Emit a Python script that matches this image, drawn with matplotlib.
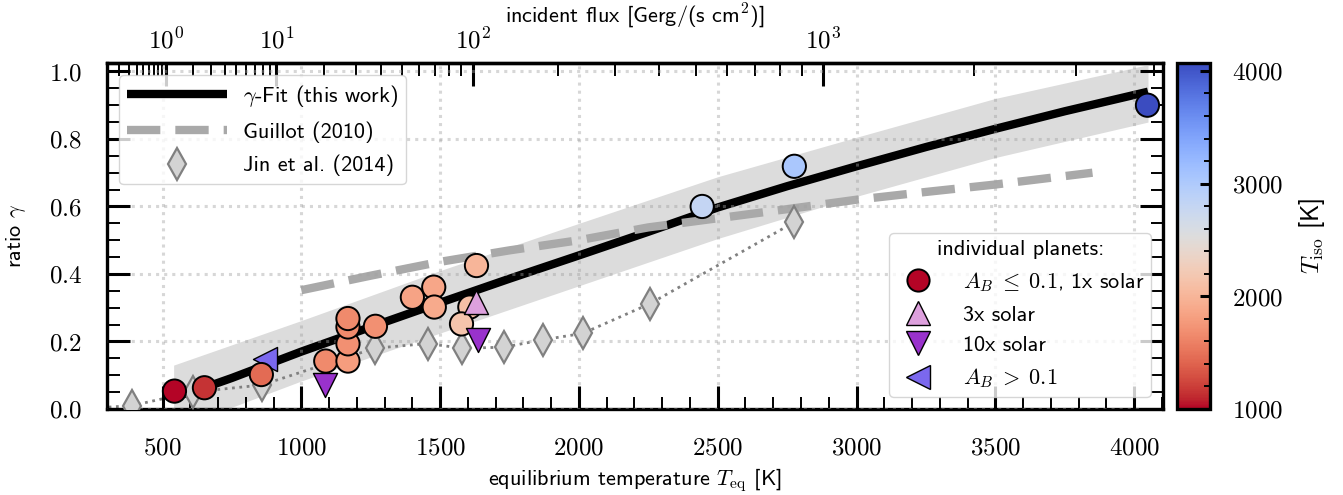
import numpy as np
import matplotlib
matplotlib.use('Agg')
import matplotlib.pyplot as plt
from matplotlib.ticker import MultipleLocator, FixedLocator, FuncFormatter, NullFormatter
from matplotlib.lines import Line2D
from matplotlib import colors as mcolors
from matplotlib import cm

plt.rcParams['font.family'] = 'cmss10'
plt.rcParams['mathtext.fontset'] = 'cm'
plt.rcParams['axes.unicode_minus'] = False
plt.rcParams['axes.formatter.use_mathtext'] = True

# ---------------- data ----------------
fit_T = [540, 650, 750, 1000, 1250, 1500, 1750, 2000, 2250, 2500, 2750, 3000, 3250, 3500, 3750, 4050]
fit_gamma = [0.035, 0.063, 0.092, 0.170, 0.243, 0.315, 0.386, 0.455, 0.525, 0.597, 0.660,
             0.719, 0.776, 0.830, 0.882, 0.940]

band_T = [540, 1000, 1500, 2000, 2500, 3000, 3500, 4050]
band_upper = [0.130, 0.262, 0.410, 0.550, 0.688, 0.805, 0.920, 1.020]
band_lower = [-0.060, 0.083, 0.225, 0.365, 0.505, 0.630, 0.745, 0.850]

guillot_T = [1000, 1250, 1500, 1750, 2000, 2250, 2500, 2750, 3000, 3250, 3500, 3850]
guillot_gamma = [0.352, 0.395, 0.436, 0.470, 0.500, 0.538, 0.565, 0.592, 0.620, 0.643, 0.665, 0.700]

jin_T = [200, 390, 608, 857, 1264, 1455, 1578, 1729, 1870, 2014, 2256, 2775]
jin_gamma = [0.0, 0.010, 0.050, 0.071, 0.180, 0.194, 0.180, 0.183, 0.205, 0.224, 0.312, 0.553]

planet_T = [543, 651, 856, 1088, 1168, 1168, 1168, 1168, 1267, 1400, 1477, 1479,
            1631, 1607, 1577, 2444, 2776, 4048]
planet_gamma = [0.053, 0.063, 0.102, 0.142, 0.142, 0.193, 0.243, 0.268, 0.245, 0.331, 0.361, 0.302,
                0.425, 0.302, 0.252, 0.600, 0.719, 0.900]
planet_Tiso = [1010, 1150, 1450, 1650, 1800, 1700, 1650, 1650, 1700, 1850, 1870, 1900,
               2000, 2100, 2150, 2800, 3050, 4060]

solar3_T = [1628]
solar3_gamma = [0.317]
solar10_T = [1635, 1084]
solar10_gamma = [0.203, 0.070]
albedo_T = [870]
albedo_gamma = [0.148]

flux_T0 = 512.0  # K, temperature corresponding to 1 Gerg/(s cm^2)
flux_major = [1, 10, 100, 1000]
flux_minor = [0.2, 0.3, 0.4, 0.5, 0.6, 0.7, 0.8, 0.9,
              2, 3, 4, 5, 6, 7, 8, 9,
              20, 30, 40, 50, 60, 70, 80, 90,
              200, 300, 400, 500, 600, 700, 800, 900,
              2000, 3000, 4000]
tiso_min, tiso_max = 1000, 4070

# ---------------- figure ----------------
W, H = 1343, 495
fig = plt.figure(figsize=(W / 100, H / 100), dpi=100)
ax = fig.add_axes([107 / W, 1 - 409 / H, (1163 - 107) / W, (409 - 63) / H])
cax = fig.add_axes([1177 / W, 1 - 409 / H, 33 / W, (409 - 63) / H])

cmap = plt.get_cmap('coolwarm_r')
norm = mcolors.Normalize(vmin=tiso_min, vmax=tiso_max)

ax.fill_between(band_T, band_lower, band_upper, color='#dcdcdc', lw=0, zorder=1)
ax.plot(fit_T, fit_gamma, color='black', lw=6, zorder=2, solid_capstyle='butt',
        solid_joinstyle='round')
ax.plot(guillot_T, guillot_gamma, color='darkgray', lw=6, dashes=(4, 1.8), zorder=2)
ax.plot(jin_T, jin_gamma, color='gray', lw=2.0, ls=':', zorder=2)
ax.plot(jin_T, jin_gamma, ls='none', marker='d', ms=15.8, mfc='lightgray', mec='gray',
        mew=1.6, zorder=2.6)

ax.scatter(planet_T, planet_gamma, c=planet_Tiso, cmap=cmap, norm=norm, s=280,
           edgecolors='black', linewidths=1.4, zorder=3)
ax.scatter(solar3_T, solar3_gamma, marker='^', color='plum', s=300, edgecolors='black',
           linewidths=1.0, zorder=4)
ax.scatter(solar10_T, solar10_gamma, marker='v', color='darkorchid', s=300, edgecolors='black',
           linewidths=1.0, zorder=4)
ax.scatter(albedo_T, albedo_gamma, marker='<', color='mediumslateblue', s=300, edgecolors='black',
           linewidths=1.0, zorder=2.9)

ax.set_xlim(300, 4104)
ax.set_ylim(0, 1.025)
ax.set_axisbelow(False)
ax.grid(True, which='major', ls=':', lw=2.2, color='#a0a0a0', alpha=0.42)

ax.xaxis.set_major_locator(MultipleLocator(500))
ax.xaxis.set_minor_locator(MultipleLocator(100))
ax.yaxis.set_major_locator(MultipleLocator(0.2))
ax.yaxis.set_minor_locator(MultipleLocator(0.05))
ax.xaxis.set_major_formatter(FuncFormatter(lambda v, p: f'${v:.0f}$'))
ax.yaxis.set_major_formatter(FuncFormatter(lambda v, p: f'${v:.1f}$'))
ax.tick_params(which='both', direction='in', top=False, right=True, labelsize=18)
ax.tick_params(which='major', length=16.5, width=2.2)
ax.tick_params(which='minor', length=9, width=1.4)
ax.tick_params(axis='x', which='major', pad=20)
ax.tick_params(axis='y', which='major', pad=18)
for s in ax.spines.values():
    s.set_linewidth(2.4)

ax.set_xlabel(r'equilibrium temperature $T_\mathrm{eq}$ [K]', fontsize=16)
ax.xaxis.set_label_coords(0.5, -0.165)
ax.set_ylabel(r'ratio $\gamma$', fontsize=16)
ax.yaxis.set_label_coords(-0.075, 0.5)

# top axis: incident flux
def t2f(T):
    return (np.asarray(T, dtype=float) / flux_T0) ** 4

def f2t(F):
    F = np.asarray(F, dtype=float)
    return flux_T0 * np.abs(F) ** 0.25

secax = ax.secondary_xaxis('top', functions=(t2f, f2t))
secax.xaxis.set_major_locator(FixedLocator(flux_major))
secax.xaxis.set_minor_locator(FixedLocator(flux_minor))
secax.xaxis.set_major_formatter(FuncFormatter(lambda v, p: f'$10^{{{int(round(np.log10(v)))}}}$'))
secax.xaxis.set_minor_formatter(NullFormatter())
secax.tick_params(which='both', direction='in', labelsize=18, pad=7)
secax.tick_params(which='major', length=16.5, width=2.2)
secax.tick_params(which='minor', length=9, width=1.4)
secax.spines['top'].set_linewidth(2.4)
secax.set_xlabel(r'incident flux [Gerg/(s cm$^2$)]', fontsize=16, labelpad=4)

# legends
h_fit = Line2D([], [], color='black', lw=6, solid_capstyle='butt')
h_gui = Line2D([], [], color='darkgray', lw=6, dashes=(4, 1.8))
h_jin = Line2D([], [], ls='none', marker='d', ms=15.8, mfc='lightgray', mec='gray', mew=1.6)
leg1 = ax.legend([h_fit, h_gui, h_jin],
                 [r'$\gamma$-Fit (this work)', 'Guillot (2010)', 'Jin et al. (2014)'],
                 loc='upper left', fontsize=16, handlelength=4.5, borderpad=0.35,
                 labelspacing=0.55, handletextpad=0.7, borderaxespad=0.55, numpoints=1)
ax.add_artist(leg1)

h_c = Line2D([], [], ls='none', marker='o', ms=16, mfc=cmap(norm(tiso_min)), mec='black', mew=1.4)
h_u = Line2D([], [], ls='none', marker='^', ms=17, mfc='plum', mec='black', mew=1.0)
h_d = Line2D([], [], ls='none', marker='v', ms=17, mfc='darkorchid', mec='black', mew=1.0)
h_l = Line2D([], [], ls='none', marker='<', ms=17, mfc='mediumslateblue', mec='black', mew=1.0)
leg2 = ax.legend([h_c, h_u, h_d, h_l],
                 [r'$A_B\;\leq\;0.1$, 1x solar', '3x solar', '10x solar', r'$A_B\;>\;0.1$'],
                 loc='lower right', fontsize=16, title='individual planets:', title_fontsize=16,
                 handlelength=2.0, borderpad=0.3, labelspacing=0.5, handletextpad=1.0,
                 borderaxespad=0.55, numpoints=1)

# colorbar
sm = cm.ScalarMappable(norm=norm, cmap=cmap)
cbar = fig.colorbar(sm, cax=cax)
cbar.set_ticks([1000, 2000, 3000, 4000])
cax.yaxis.set_minor_locator(MultipleLocator(200))
cax.yaxis.set_major_formatter(FuncFormatter(lambda v, p: f'${v:.0f}$'))
cax.tick_params(which='both', direction='in', right=True, labelsize=18, pad=16)
cax.tick_params(which='major', length=7, width=2.2)
cax.tick_params(which='minor', length=4, width=1.4)
cbar.outline.set_linewidth(2.4)
cbar.set_label(r'$T_\mathrm{iso}$ [K]', fontsize=18, labelpad=10)

fig.savefig('out.png', dpi=100)
